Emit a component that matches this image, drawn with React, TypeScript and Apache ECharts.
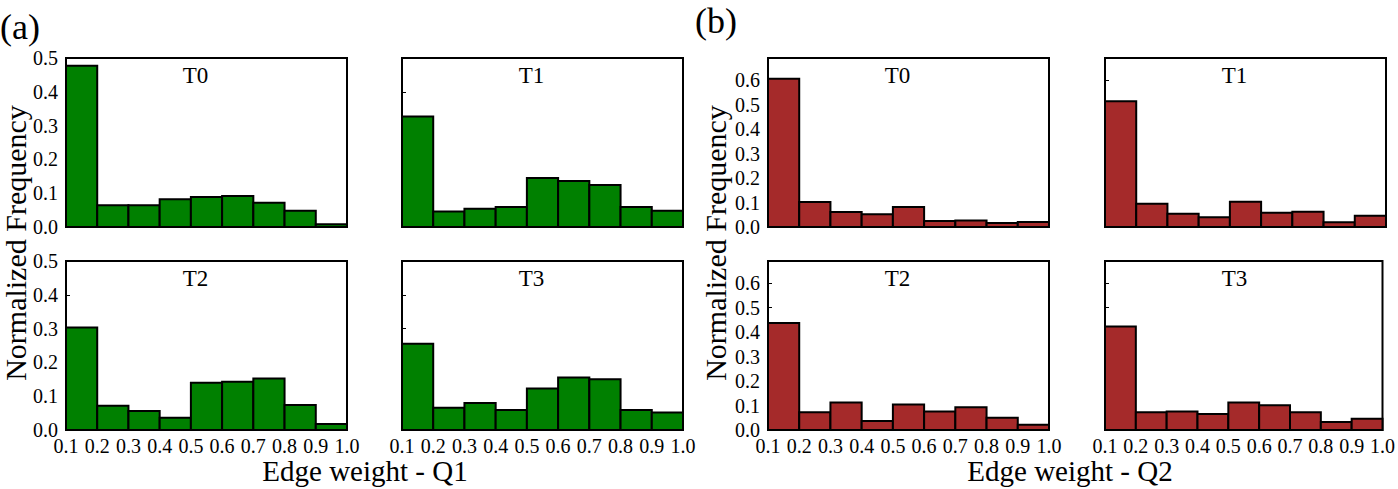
import React, { useEffect, useRef } from "react";
import * as echarts from "echarts";

// ---- data ----
const binEdges = [0.1, 0.2, 0.3, 0.4, 0.5, 0.6, 0.7, 0.8, 0.9, 1.0];
const panelTitles = ["T0", "T1", "T2", "T3"];

const q1T0 = [0.477, 0.064, 0.064, 0.082, 0.089, 0.092, 0.072, 0.048, 0.008];
const q1T1 = [0.327, 0.046, 0.054, 0.059, 0.145, 0.136, 0.124, 0.059, 0.048];
const q1T2 = [0.303, 0.072, 0.056, 0.036, 0.14, 0.143, 0.152, 0.074, 0.018];
const q1T3 = [0.255, 0.066, 0.08, 0.059, 0.123, 0.155, 0.15, 0.059, 0.052];

const q2T0 = [0.605, 0.102, 0.061, 0.052, 0.082, 0.025, 0.027, 0.016, 0.02];
const q2T1 = [0.513, 0.095, 0.054, 0.04, 0.103, 0.058, 0.062, 0.019, 0.046];
const q2T2 = [0.437, 0.072, 0.112, 0.037, 0.104, 0.076, 0.093, 0.05, 0.021];
const q2T3 = [0.423, 0.072, 0.076, 0.065, 0.112, 0.101, 0.072, 0.033, 0.046];

const q1YMax = 0.5;
const q2YMax = 0.69;
const xLabelQ1 = "Edge weight - Q1";
const xLabelQ2 = "Edge weight - Q2";
const yLabel = "Normalized Frequency";

const GREEN = "#008000";
const BROWN = "#a52a2a";
const FONT = "'Liberation Serif', 'DejaVu Serif', serif";

// layout
const PW = 281;
const PH = 169;
const colLeft = [66, 402, 768, 1105];
const rowTop = [58, 261];

type Panel = { data: number[]; left: number; top: number; color: string; ymax: number; showY: boolean; showX: boolean; title: string };

const panels: Panel[] = [
  { data: q1T0, left: colLeft[0], top: rowTop[0], color: GREEN, ymax: q1YMax, showY: true, showX: false, title: panelTitles[0] },
  { data: q1T1, left: colLeft[1], top: rowTop[0], color: GREEN, ymax: q1YMax, showY: false, showX: false, title: panelTitles[1] },
  { data: q1T2, left: colLeft[0], top: rowTop[1], color: GREEN, ymax: q1YMax, showY: true, showX: true, title: panelTitles[2] },
  { data: q1T3, left: colLeft[1], top: rowTop[1], color: GREEN, ymax: q1YMax, showY: false, showX: true, title: panelTitles[3] },
  { data: q2T0, left: colLeft[2], top: rowTop[0], color: BROWN, ymax: q2YMax, showY: true, showX: false, title: panelTitles[0] },
  { data: q2T1, left: colLeft[3], top: rowTop[0], color: BROWN, ymax: q2YMax, showY: false, showX: false, title: panelTitles[1] },
  { data: q2T2, left: colLeft[2], top: rowTop[1], color: BROWN, ymax: q2YMax, showY: true, showX: true, title: panelTitles[2] },
  { data: q2T3, left: colLeft[3], top: rowTop[1], color: BROWN, ymax: q2YMax, showY: false, showX: true, title: panelTitles[3] },
];

function isTenth(v: number) {
  return Math.abs(v * 10 - Math.round(v * 10)) < 1e-6;
}

export default function App() {
  const ref = useRef<HTMLDivElement>(null);
  useEffect(() => {
    if (!ref.current) return;
    const chart = echarts.init(ref.current, null, { renderer: "svg" });
    const grid: any[] = [];
    const xAxis: any[] = [];
    const yAxis: any[] = [];
    const series: any[] = [];
    const graphic: any[] = [];
    panels.forEach((p, i) => {
      grid.push({
        left: p.left,
        top: p.top,
        width: PW,
        height: PH,
        show: true,
        borderColor: "#000",
        borderWidth: 2,
        backgroundColor: "transparent",
        containLabel: false,
      });
      xAxis.push({
        type: "value",
        gridIndex: i,
        min: 0.1,
        max: 1.0,
        interval: 0.1,
        axisLine: { show: false },
        splitLine: { show: false },
        axisTick: { show: true, inside: true, length: 3, lineStyle: { color: "#000", width: 1 } },
        axisLabel: {
          show: p.showX,
          color: "#000",
          fontFamily: FONT,
          fontSize: 20,
          margin: 6,
          showMinLabel: true,
          showMaxLabel: true,
          hideOverlap: false,
          formatter: (v: number) => v.toFixed(1),
        },
      });
      yAxis.push({
        type: "value",
        gridIndex: i,
        min: 0,
        max: p.ymax,
        interval: 0.1,
        axisLine: { show: false },
        splitLine: { show: false },
        axisTick: { show: true, inside: true, length: 4, lineStyle: { color: "#000", width: 1 } },
        axisLabel: {
          show: p.showY,
          color: "#000",
          fontFamily: FONT,
          fontSize: 20,
          margin: 8,
          showMinLabel: true,
          showMaxLabel: true,
          formatter: (v: number) => (isTenth(v) ? v.toFixed(1) : ""),
        },
      });
      const items = p.data.map((v, k) => [binEdges[k], binEdges[k + 1], v]);
      const color = p.color;
      series.push({
        type: "custom",
        xAxisIndex: i,
        yAxisIndex: i,
        encode: { x: [0, 1], y: 2 },
        data: items,
        clip: false,
        renderItem: (params: any, api: any) => {
          const a = api.coord([api.value(0), api.value(2)]);
          const b = api.coord([api.value(1), 0]);
          return {
            type: "rect",
            shape: { x: a[0], y: a[1], width: b[0] - a[0], height: b[1] - a[1] },
            style: { fill: color, stroke: "#000", lineWidth: 2 },
          };
        },
      });
      graphic.push({
        type: "text",
        x: p.left + PW / 2 - 11,
        y: p.top + 17,
        style: {
          text: p.title,
          fontFamily: FONT,
          fontSize: 23,
          fill: "#000",
          align: "center",
          verticalAlign: "middle",
        },
      });
    });

    const labelStyle = { fontFamily: FONT, fontSize: 29, fill: "#000", align: "center", verticalAlign: "middle" };
    graphic.push(
      { type: "text", x: 15, y: 243, rotation: Math.PI / 2, style: { ...labelStyle, fontSize: 30, text: yLabel } },
      { type: "text", x: 715, y: 243, rotation: Math.PI / 2, style: { ...labelStyle, fontSize: 30, text: yLabel } },
      { type: "text", x: 365, y: 471, style: { ...labelStyle, text: xLabelQ1 } },
      { type: "text", x: 1070, y: 471, style: { ...labelStyle, text: xLabelQ2 } },
      { type: "text", x: 0, y: 27, style: { fontFamily: FONT, fontSize: 36, fill: "#000", align: "left", verticalAlign: "middle", text: "(a)" } },
      { type: "text", x: 695, y: 21, style: { fontFamily: FONT, fontSize: 36, fill: "#000", align: "left", verticalAlign: "middle", text: "(b)" } }
    );

    chart.setOption({
      animation: false,
      backgroundColor: "#fff",
      grid,
      xAxis,
      yAxis,
      series,
      graphic,
    });
    return () => chart.dispose();
  }, []);
  return (
    <div
      ref={ref}
      style={{ position: "fixed", left: 0, top: 0, width: 1398, height: 489 }}
    />
  );
}
